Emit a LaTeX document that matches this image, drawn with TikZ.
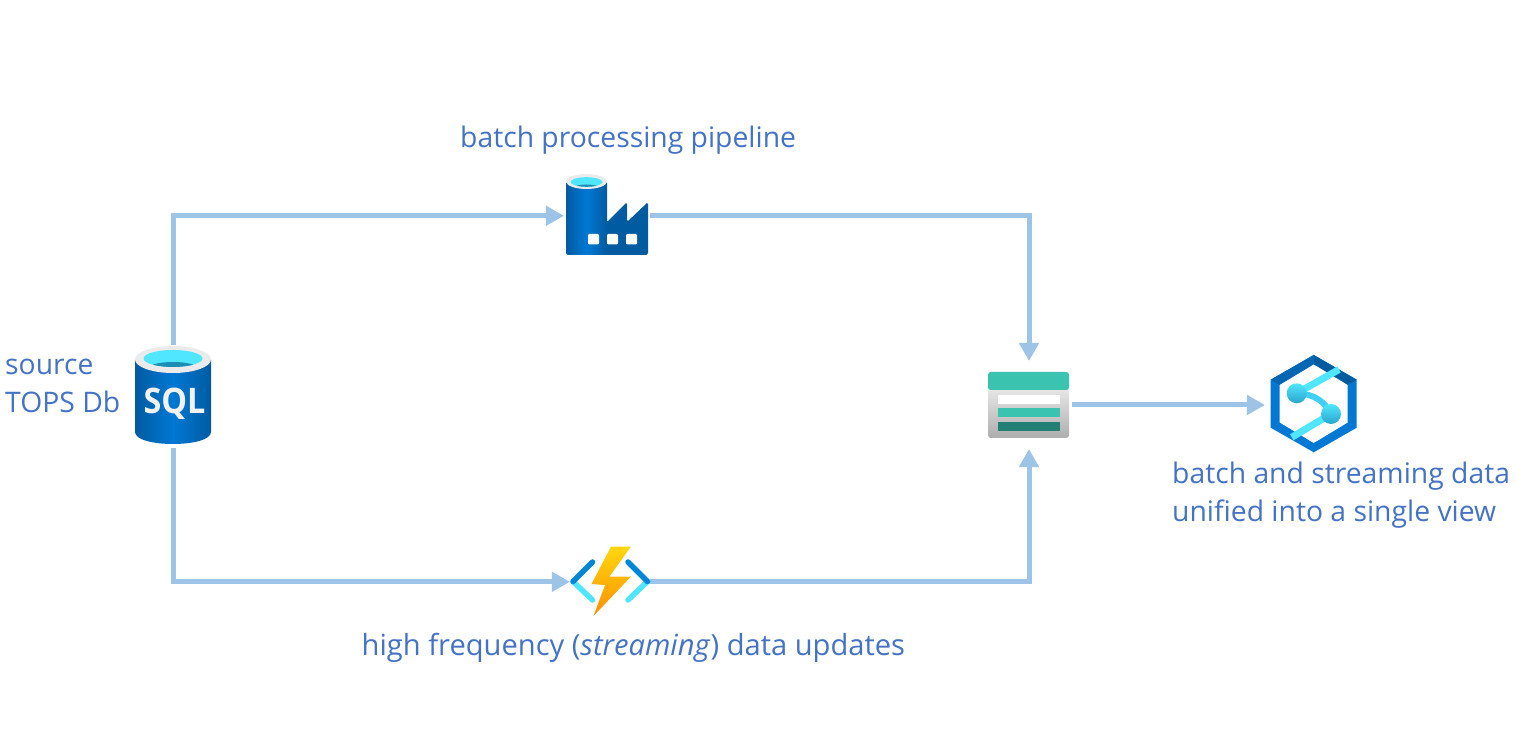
\documentclass[tikz,border=0pt]{standalone}
\usepackage{fontspec}
\setmainfont{Open Sans}
\usetikzlibrary{arrows.meta}
\definecolor{flowblue}{HTML}{9DC3E6}
\definecolor{labelblue}{HTML}{4472C4}
\definecolor{azuredark}{HTML}{005BA1}
\definecolor{azuremid}{HTML}{0078D4}
\definecolor{azurecyan}{HTML}{50E6FF}
\definecolor{waterblue}{HTML}{1C8DB5}
\definecolor{orbbottom}{HTML}{2AA5CC}
\definecolor{tealmid}{HTML}{3AC3AF}
\definecolor{tealdark}{HTML}{217F74}
\definecolor{bolttop}{HTML}{FFD70F}
\definecolor{boltbottom}{HTML}{FF8F00}
\tikzset{
	icon/.style={inner sep=0pt, outer sep=0pt},
	flow/.style={draw=flowblue, line width=0.05cm, -{Triangle[length=0.18cm,width=0.19cm]}},
	caption/.style={font=\fontsize{8.05}{10.8}\selectfont, text=labelblue, inner sep=0pt, align=left},
	azurebody/.style={left color=azuredark, right color=azuredark, middle color=azuremid},
}
\begin{document}
\begin{tikzpicture}[x=0.01cm, y=-0.01cm]
	\useasboundingbox (0, 0) rectangle (1531, 731);
	%% icon places, the connectors end on these
	\node[icon, minimum width=0.76cm, minimum height=1.03cm] (sqldb) at (173, 396.5) {};
	\node[icon, minimum width=0.86cm, minimum height=0.82cm] (factory) at (607, 215.8) {};
	\node[icon, minimum width=0.80cm, minimum height=0.72cm] (functions) at (610, 581.8) {};
	\node[icon, minimum width=0.86cm, minimum height=0.88cm] (store) at (1029, 405) {};
	\node[icon, minimum width=0.97cm, minimum height=0.98cm] (synapse) at (1313.5, 405) {};
	%%
	\draw[flow] (sqldb.north) |- (factory.west);
	\draw[flow] (factory.east) -| (store.north);
	\draw[flow] (sqldb.south) |- (functions.west);
	\draw[flow] (functions.east) -| (store.south);
	\draw[flow] (store.east) -- (synapse.west);
	%% database
	\shade[azurebody] (135, 359.5) -- (135, 432) .. controls (135, 448) and (211, 448) .. (211, 432) -- (211, 359.5) -- cycle;
	\fill[black!8] (173, 359.5) ellipse[x radius=38, y radius=13.5];
	\fill[azurecyan] (173, 358.5) ellipse[x radius=29.5, y radius=8.5];
	\begin{scope}
		\clip (173, 358.5) ellipse[x radius=29.5, y radius=8.5];
		\fill[waterblue] (173, 368) ellipse[x radius=24, y radius=6];
	\end{scope}
	\node[icon, text=white!95!black, font=\fontsize{10}{10}\selectfont\bfseries, xscale=0.92, transform shape] (sqltext) at (174.5, 403.5) {SQL};
	%% factory
	\fill[azuredark, rounded corners=0.5pt] (600, 222) -- (607, 222) -- (627, 202) -- (627, 222) -- (648, 202) -- (648, 255) -- (600, 255) -- cycle;
	\shade[azurebody, rounded corners=0.5pt] (566, 181.5) -- (566, 255) -- (607, 255) -- (607, 181.5) -- cycle;
	\fill[black!8] (586.5, 181.5) ellipse[x radius=20.5, y radius=7.5];
	\fill[azurecyan] (586.5, 182) ellipse[x radius=16, y radius=4.8];
	\begin{scope}
		\clip (586.5, 182) ellipse[x radius=16, y radius=4.8];
		\fill[waterblue] (586.5, 188) ellipse[x radius=13, y radius=3.5];
	\end{scope}
	\foreach \winx in {588, 607, 626}
		\fill[white, rounded corners=0.3pt] (\winx, 234) rectangle ++(11, 10.5);
	%% function
	\draw[azurecyan, line width=0.055cm, line cap=round] (573, 581.5) -- (592.5, 600);
	\draw[azurecyan, line width=0.055cm, line cap=round] (647.5, 581.5) -- (628, 600);
	\draw[azuremid!90!cyan, line width=0.055cm, line cap=round] (573, 581.5) -- (592.5, 562);
	\draw[azuremid!90!cyan, line width=0.055cm, line cap=round] (647.5, 581.5) -- (628, 562);
	\shade[top color=bolttop, bottom color=boltbottom] (611, 546.5) -- (631, 546.5) -- (609.5, 576.5) -- (631, 576.5) -- (593.5, 616) -- (605, 585) -- (591.5, 584) -- cycle;
	%% table store
	\shade[top color=black!8, bottom color=black!32, rounded corners=0.8pt] (988, 385) -- (988, 438) -- (1069, 438) -- (1069, 385) -- cycle;
	\fill[tealmid, rounded corners=0.8pt] (988, 390) -- (988, 372) -- (1069, 372) -- (1069, 390) -- cycle;
	\fill[white] (998, 395) rectangle (1060, 404);
	\fill[tealmid] (998, 408) rectangle (1060, 417);
	\fill[tealdark] (998, 422) rectangle (1060, 431);
	%% hexagon
	\fill[azuremid] (1313.7, 355) -- (1356.7, 379.7) -- (1356.7, 427.7) -- (1313.7, 452.3) -- (1270.7, 427.7) -- (1270.7, 379.7) -- cycle;
	\fill[azuredark] (1313.7, 355) -- (1356.7, 379.7) -- (1347.7, 385) -- (1313.7, 364.5) -- cycle;
	\fill[azuremid!85!black] (1313.7, 355) -- (1270.7, 379.7) -- (1279.7, 385) -- (1313.7, 364.5) -- cycle;
	\fill[white] (1313.7, 364.5) -- (1347.7, 385) -- (1347.7, 422.5) -- (1313.7, 443) -- (1279.7, 422.5) -- (1279.7, 385) -- cycle;
	\draw[azurecyan, line width=0.07cm] (1296.7, 393.3) -- (1339, 369.5);
	\draw[azurecyan, line width=0.07cm] (1331, 414) -- (1291.7, 437.3);
	\draw[azurecyan!80!azuremid, line width=0.06cm] (1296.7, 393.3) .. controls (1315, 394) and (1325, 402) .. (1331, 414);
	\shade[top color=azurecyan, bottom color=orbbottom] (1296.7, 393.3) circle[radius=10];
	\shade[top color=azurecyan, bottom color=orbbottom] (1331, 414) circle[radius=10];
	%% labels
	\node[caption, anchor=base west] (batchlabel) at (459.5, 148) {batch processing pipeline};
	\node[caption, anchor=base west, font=\fontsize{8.28}{10.8}\selectfont] (streamlabel) at (361, 655) {high frequency (\textit{streaming}) data updates};
	\node[caption, anchor=west] (sourcelabel) at (4.5, 386) {source\\TOPS Db};
	\node[caption, anchor=west] (viewlabel) at (1171.5, 495) {batch and streaming data\\unified into a single view};
\end{tikzpicture}
\end{document}
